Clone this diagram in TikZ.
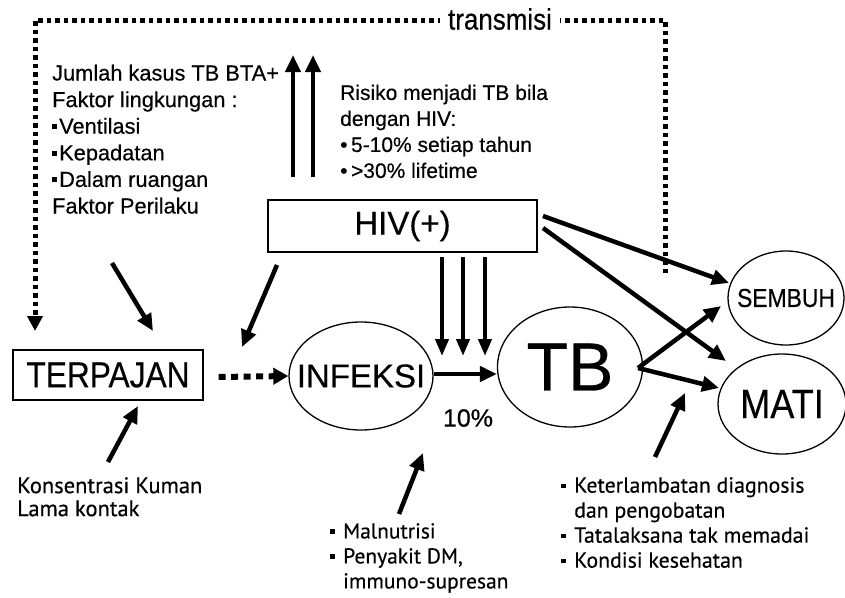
\documentclass[tikz,border=0pt]{standalone}
\usepackage{fontspec}
\setmainfont{Liberation Sans}[FakeBold=0.4]
\newfontfamily\narrowsans{Liberation Sans}[FakeStretch=0.88,FakeBold=0.4]
\newfontfamily\humfont{PT Sans}[FakeBold=0.4]
\usetikzlibrary{arrows.meta,shapes.geometric,calc}
% small square bullets
\newcommand\lbul{\rule[4.5pt]{5pt}{5pt}\hspace{2pt}}
\newcommand\sqbul{\makebox[13pt][l]{\rule[4.5pt]{4.5pt}{4.5pt}}}
\newcommand\sqind{\makebox[13pt]{}}
\begin{document}
\begin{tikzpicture}[x=1pt,y=-1pt,
  fsz/.style={font=\fontsize{#1}{#1}\selectfont},
  nsz/.style={font=\narrowsans\fontsize{#1}{#1}\selectfont},
  txt/.style={inner sep=0pt,align=left,anchor=north west},
  bold arrow/.style={line width=4.5pt,-{Triangle[length=17pt,width=15pt]}},
  dotline/.style={line width=5pt,dash pattern=on 4.5pt off 4pt},
  bubble/.style={ellipse,draw,line width=1.3pt,inner sep=0pt},
  frame/.style={rectangle,draw,line width=1.3pt,inner sep=0pt},
]
\useasboundingbox (0,0) rectangle (845,597);

% ---- main boxes and bubbles
\node[frame,minimum width=190pt,minimum height=50pt,nsz=36] (terpajan) at (108,375) {TERPAJAN};
\node[frame,minimum width=269pt,minimum height=52pt,fsz=33] (hiv) at (402.5,226) {HIV(+)};
\node[bubble,minimum width=144pt,minimum height=108pt,
      label={[fsz=33]center:INFEKSI}] (infeksi) at (361,376) {};
\node[bubble,minimum width=145pt,minimum height=120pt,
      label={[fsz=68]center:TB}] (tb) at (570,367) {};
\node[bubble,minimum width=116pt,minimum height=94pt,
      label={[nsz=26]center:SEMBUH}] (sembuh) at (786,298) {};
\node[bubble,minimum width=128pt,minimum height=100pt,
      label={[nsz=41]center:MATI}] (mati) at (782,404) {};

% ---- text blocks
\node[txt,font=\fontsize{21.8}{26.6}\selectfont] (faktor) at (52,64.5)
  {Jumlah kasus TB BTA+\\Faktor lingkungan :\\\lbul Ventilasi\\\lbul Kepadatan\\\lbul Dalam ruangan\\Faktor Perilaku};
\node[txt,font=\fontsize{21}{26}\selectfont] (risiko) at (340,84.5)
  {Risiko menjadi TB bila\\dengan HIV:\\\textbullet\,5-10\% setiap tahun\\\textbullet\,>30\% lifetime};
\node[txt,font=\humfont\fontsize{22.5}{23}\selectfont] (kuman) at (17,477)
  {Konsentrasi Kuman\\Lama kontak};
\node[txt,font=\humfont\fontsize{21.5}{25}\selectfont] (gizi) at (330,523)
  {\sqbul Malnutrisi\\\sqbul Penyakit DM,\\\sqind immuno-supresan};
\node[txt,font=\humfont\fontsize{21.8}{25}\selectfont] (tatalaksana) at (561,477)
  {\sqbul Keterlambatan diagnosis\\\sqind dan pengobatan\\\sqbul Tatalaksana tak memadai\\\sqbul Kondisi kesehatan};
\node[fsz=25] (persen) at (468,418) {10\%};

% ---- transmission loop
\coordinate (trEnd) at (665,273);
\coordinate (trRight) at (665,20);
\coordinate (trLeft) at (35,20);
\coordinate (trTip) at (35,331);
\draw[dotline,-{Triangle[length=15pt,width=15pt]}] (trEnd) -- (trRight) -- (trLeft) -- (trTip);
\node[nsz=29.5,fill=white,inner xsep=8pt,inner ysep=2pt] (transmisi) at (500,19) {transmisi};

% ---- free ends of the bold arrows
\coordinate (upAs) at (293,177); \coordinate (upAe) at (293,55);
\coordinate (upBs) at (313,177); \coordinate (upBe) at (313,55);
\coordinate (envS) at (112,263); \coordinate (envE) at (153,331);
\coordinate (hivInfS) at (277,265); \coordinate (hivInfE) at (242,347);
\coordinate (kumS) at (108,462); \coordinate (kumE) at (138,406);
\coordinate (giziS) at (399,514); \coordinate (giziE) at (423,453);
\coordinate (tataS) at (655,457); \coordinate (tataE) at (685,393);
\coordinate (dA) at (442,257); \coordinate (dB) at (463,257); \coordinate (dC) at (485,257);
\coordinate (hivSemS) at (543,216); \coordinate (hivSemE) at (729,283);
\coordinate (hivMatS) at (543,228); \coordinate (hivMatE) at (726,361);
\coordinate (tbSemE) at (721,306);
\coordinate (tbMatE) at (719,388);
\coordinate (tbOut) at (638,368);

\draw[bold arrow] (upAs) -- (upAe);
\draw[bold arrow] (upBs) -- (upBe);
\draw[bold arrow] (envS) -- (envE);
\draw[bold arrow] (hivInfS) -- (hivInfE);
\draw[bold arrow] (kumS) -- (kumE);
\draw[bold arrow] (giziS) -- (giziE);
\draw[bold arrow] (tataS) -- (tataE);
\foreach \c in {dA,dB,dC}
  \draw[line width=4pt,-{Triangle[length=17pt,width=13pt]}] (\c) -- (\c |- 0,356);
\draw[bold arrow] (hivSemS) -- (hivSemE);
\draw[bold arrow] (hivMatS) -- (hivMatE);
\draw[bold arrow] (tbOut) -- (tbSemE);
\draw[bold arrow] (tbOut) -- (tbMatE);
\draw[bold arrow] (infeksi.east |- 0,374) -- (tb.west |- 0,374);
\draw[line width=6pt,dash pattern=on 7pt off 5.5pt,-{Triangle[length=15pt,width=16pt]}]
  ($(terpajan.east)+(15,2)$) -- (infeksi.west |- 0,376);
\end{tikzpicture}
\end{document}
